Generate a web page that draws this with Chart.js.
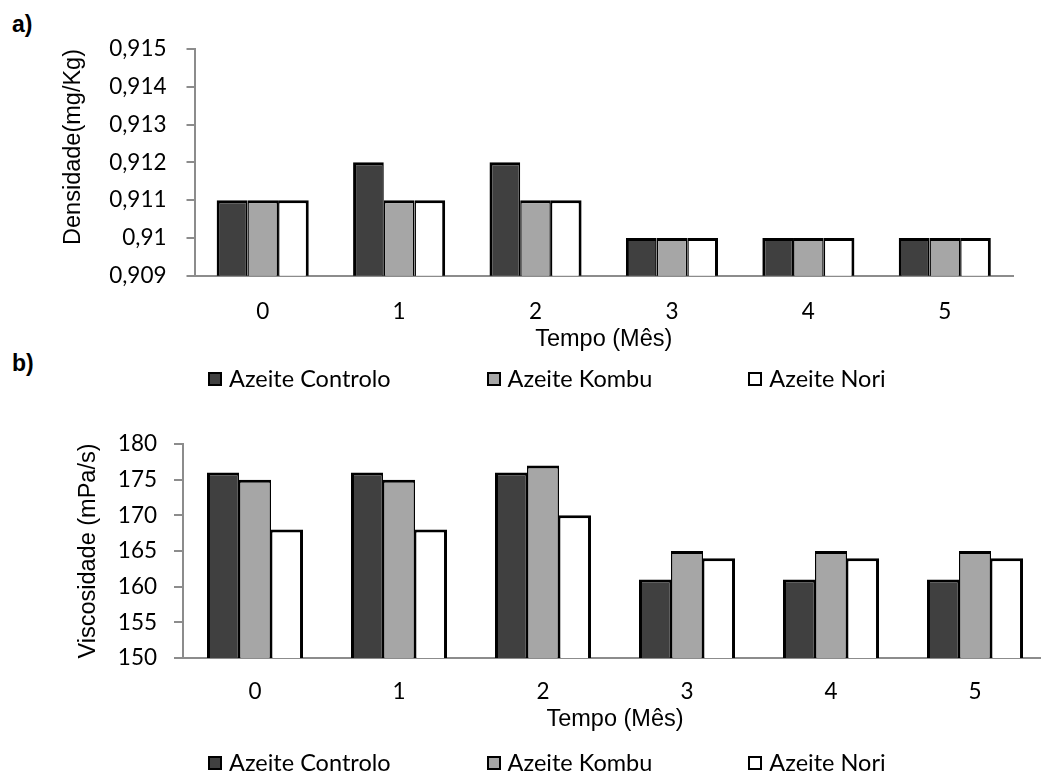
<!DOCTYPE html>
<html lang="pt">
<head>
<meta charset="utf-8">
<title>Densidade e viscosidade dos azeites</title>
<script src="https://cdn.jsdelivr.net/npm/chart.js@4.4.1/dist/chart.umd.min.js"></script>
<style>
  html, body { margin: 0; padding: 0; width: 1041px; height: 774px; overflow: hidden; background: #fff; }
  .wrap { position: absolute; left: 0; }
  .panel { position: absolute; left: 12px; font: bold 23px "Liberation Sans", Arial, sans-serif; color: #000; line-height: 1; }
  .legend { position: absolute; left: 208px; display: flex; gap: 96px; font: 23.5px Lato, sans-serif; color: #000; line-height: 1; }
  .legend .item { display: flex; align-items: center; white-space: nowrap; }
  .legend .box { width: 10px; height: 10px; border: 2px solid #000; margin-right: 7px; }
</style>
</head>
<body>
<div class="panel" style="top:13px">a)</div>
<div class="panel" style="top:352px">b)</div>

<div class="wrap" style="top:0;width:1041px;height:400px"><canvas id="chartA" width="1041" height="400"></canvas></div>
<div class="legend" id="legendA" style="top:367px"></div>

<div class="wrap" style="top:400px;width:1070px;height:374px"><canvas id="chartB" width="1070" height="374"></canvas></div>
<div class="legend" id="legendB" style="top:751px"></div>

<script>
// Meses de armazenamento
const meses = ['0', '1', '2', '3', '4', '5'];
const amostras = ['Azeite Controlo', 'Azeite Kombu', 'Azeite Nori'];

// a) Densidade (mg/Kg)
const densControlo = [0.911, 0.912, 0.912, 0.910, 0.910, 0.910];
const densKombu    = [0.911, 0.911, 0.911, 0.910, 0.910, 0.910];
const densNori     = [0.911, 0.911, 0.911, 0.910, 0.910, 0.910];
const densEixo     = [0.909, 0.915, 0.001]; // min, max, passo

// b) Viscosidade (mPa/s)
const viscControlo = [176, 176, 176, 161, 161, 161];
const viscKombu    = [175, 175, 177, 165, 165, 165];
const viscNori     = [168, 168, 170, 164, 164, 164];
const viscEixo     = [150, 180, 5];

const tituloX = 'Tempo (Mês)';
const tituloDens = 'Densidade(mg/Kg)';
const tituloVisc = 'Viscosidade (mPa/s)';

const cores = ['#404040', '#a6a6a6', '#ffffff'];
const bordas = [
  { top: 3, left: 3, right: 1.5, bottom: 0 },
  { top: 3, left: 1.5, right: 1.5, bottom: 0 },
  { top: 3, left: 1.5, right: 3, bottom: 0 }
];
const cinzaEixo = '#8c8c8c';
const fonteTicks = { family: 'Lato, sans-serif', size: 22.5 };
const fonteTitulo = { family: '"Liberation Sans", Arial, sans-serif', size: 23.5 };

// decimal com vírgula, sem zeros finais (0,91)
const formatoPt = v => String(+(+v).toFixed(3)).replace('.', ',');

function grafico(id, valores, eixo, tituloY, o) {
  return new Chart(document.getElementById(id), {
    type: 'bar',
    data: {
      labels: meses,
      datasets: valores.map((vals, i) => ({
        label: amostras[i],
        data: vals,
        backgroundColor: cores[i],
        borderColor: '#000',
        borderWidth: bordas[i],
        barPercentage: 1,
        categoryPercentage: o.catPct
      }))
    },
    options: {
      responsive: false,
      animation: false,
      devicePixelRatio: 1,
      layout: { padding: o.padding },
      plugins: { legend: { display: false }, tooltip: { enabled: false } },
      scales: {
        x: {
          z: 1,
          grid: { display: false, drawTicks: false, tickLength: 0 },
          border: { display: true, color: cinzaEixo, width: 2 },
          ticks: { padding: o.xTickPad, color: '#000', font: fonteTicks },
          title: { display: true, text: tituloX, color: '#000', font: fonteTitulo, padding: { top: 0, bottom: 0 } },
          afterFit(s) { s.height = o.xAxisH; }
        },
        y: {
          min: eixo[0],
          max: eixo[1],
          beginAtZero: false,
          ticks: { stepSize: eixo[2], padding: o.yTickPad, color: '#000', font: fonteTicks, callback: formatoPt },
          grid: { drawOnChartArea: false, drawTicks: true, tickLength: o.yTickLen, color: cinzaEixo, lineWidth: 2 },
          border: { display: true, color: cinzaEixo, width: 2 },
          title: { display: true, text: tituloY, align: o.yAlign, color: '#000', font: fonteTitulo, padding: { top: o.yTitlePad, bottom: 0 } },
          afterFit(s) { s.width = o.yAxisW; }
        }
      }
    }
  });
}

function legendaHtml(chart, alvo) {
  const el = document.getElementById(alvo);
  chart.data.datasets.forEach(ds => {
    const item = document.createElement('div');
    item.className = 'item';
    const box = document.createElement('span');
    box.className = 'box';
    box.style.background = ds.backgroundColor;
    const txt = document.createElement('span');
    txt.textContent = ds.label;
    item.appendChild(box);
    item.appendChild(txt);
    el.appendChild(item);
  });
}

const chartA = grafico('chartA', [densControlo, densKombu, densNori], densEixo, tituloDens, {
  catPct: 0.675,
  padding: { top: 49, left: 0, right: 28, bottom: 45.9 },
  xAxisH: 78.4, xTickPad: 22.8,
  yAxisW: 194.5, yTickPad: 20, yTickLen: 8, yTitlePad: 59.9, yAlign: 'end'
});

const chartB = grafico('chartB', [viscControlo, viscKombu, viscNori], viscEixo, tituloVisc, {
  catPct: 0.667,
  padding: { top: 44, left: 0, right: 23, bottom: 39.9 },
  xAxisH: 76.1, xTickPad: 20.5,
  yAxisW: 183, yTickPad: 17, yTickLen: 9, yTitlePad: 74.4, yAlign: 'center'
});

legendaHtml(chartA, 'legendA');
legendaHtml(chartB, 'legendB');
</script>
</body>
</html>
